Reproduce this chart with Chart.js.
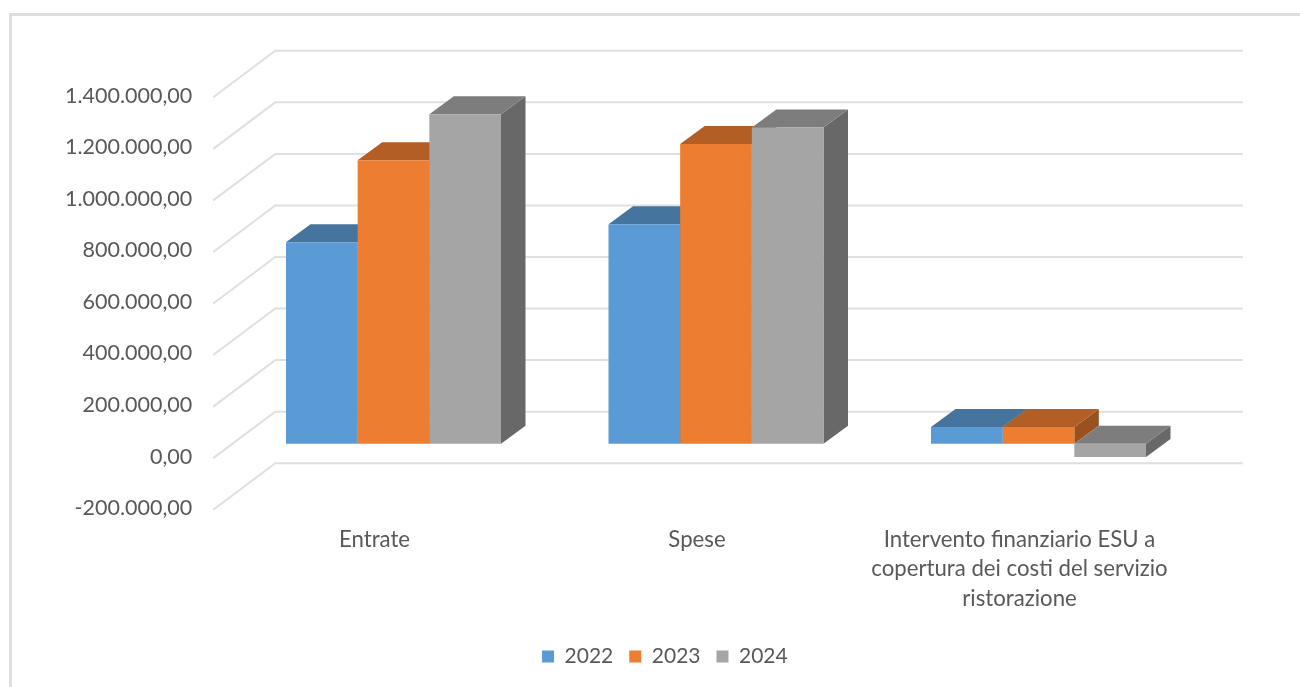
<!DOCTYPE html>
<html>
<head>
<meta charset="utf-8">
<script src="https://cdn.jsdelivr.net/npm/chart.js@4"></script>
<style>
html,body{margin:0;padding:0;background:#fff;overflow:hidden}
#wrap{position:absolute;left:0;top:0;width:1300px;height:687px;overflow:hidden}
#frame{position:absolute;left:9px;top:13px;width:1320px;height:700px;border:3px solid #dedede;box-sizing:border-box}
canvas{position:absolute;left:0;top:0}
</style>
</head>
<body>
<div id="wrap"><div id="frame"></div><canvas id="c" width="1300" height="687"></canvas></div>
<script>
const categories = ['Entrate', 'Spese', ['Intervento finanziario ESU a', 'copertura dei costi del servizio', 'ristorazione']];
const years = ['2022', '2023', '2024'];
const values2022 = [781000, 851000, 65000];
const values2023 = [1100000, 1163000, 65000];
const values2024 = [1278000, 1227000, -52000];
const frontColors = ['#5b9bd5', '#ed7d31', '#a5a5a5'];
const topColors = ['#45759f', '#b25e24', '#7d7d7d'];
const sideColors = ['#3a6387', '#9a5120', '#686868'];

const DEPTH_X = 24.5, DEPTH_Y = 18;      // bar depth
const BACK_X = 43, BACK_Y = 32;          // bar plane -> back wall
const FRONT_X = -19, FRONT_Y = 14.5;     // bar plane -> front edge of the floor

function poly(ctx, pts, fill) {
  ctx.beginPath();
  pts.forEach((p, i) => i ? ctx.lineTo(p[0], p[1]) : ctx.moveTo(p[0], p[1]));
  ctx.closePath();
  ctx.fillStyle = fill;
  ctx.fill();
}

const walls = {
  id: 'walls',
  afterLayout(chart) {
    // the legend sits centred under the whole chart, plot offset included
    chart.legend.left += 65; chart.legend.right += 65;
    chart.legend.top += 4; chart.legend.bottom += 4;
  },
  beforeDatasetsDraw(chart) {
    const { ctx, chartArea: a, scales: { y } } = chart;
    ctx.save();
    ctx.strokeStyle = '#e0e0e0';
    ctx.lineWidth = 2;
    y.ticks.forEach(t => {
      const py = y.getPixelForValue(t.value);
      ctx.beginPath();
      ctx.moveTo(a.left + FRONT_X, py + FRONT_Y);
      ctx.lineTo(a.left + BACK_X, py - BACK_Y);
      ctx.lineTo(a.right + BACK_X, py - BACK_Y);
      ctx.stroke();
    });
    chart.data.datasets.forEach((ds, i) => {
      chart.getDatasetMeta(i).data.forEach(bar => {
        const l = bar.x - bar.width / 2, r = bar.x + bar.width / 2;
        const t = Math.min(bar.y, bar.base), b = Math.max(bar.y, bar.base);
        poly(ctx, [[r, t], [r + DEPTH_X, t - DEPTH_Y], [r + DEPTH_X, b - DEPTH_Y], [r, b]], sideColors[i]);
        poly(ctx, [[l, t], [l + DEPTH_X, t - DEPTH_Y], [r + DEPTH_X, t - DEPTH_Y], [r, t]], topColors[i]);
      });
    });
    ctx.restore();
  }
};

new Chart(document.getElementById('c'), {
  type: 'bar',
  plugins: [walls],
  data: {
    labels: categories,
    datasets: [
      { label: years[0], data: values2022, backgroundColor: frontColors[0] },
      { label: years[1], data: values2023, backgroundColor: frontColors[1] },
      { label: years[2], data: values2024, backgroundColor: frontColors[2] }
    ]
  },
  options: {
    responsive: false,
    animation: false,
    layout: { padding: { left: 0, right: 100.25, top: 82.8, bottom: 14 } },
    datasets: { bar: { categoryPercentage: 2 / 3, barPercentage: 1 } },
    scales: {
      x: {
        grid: { display: false, drawTicks: false },
        border: { display: false },
        afterFit(s) { s.height = 130.8; },
        ticks: {
          autoSkip: false, maxRotation: 0, minRotation: 0,
          padding: 30, labelOffset: FRONT_X,
          color: '#595959',
          font: { family: 'Lato', size: 22.2, lineHeight: 1.32 }
        }
      },
      y: {
        min: -200000, max: 1400000,
        grid: { display: false, drawTicks: false },
        border: { display: false },
        afterFit(s) { s.width = 232.25; },
        ticks: {
          stepSize: 200000, padding: 40, labelOffset: 13,
          color: '#595959', font: { family: 'Lato', size: 21.5 },
          callback: v => v.toLocaleString('it-IT', { minimumFractionDigits: 2, maximumFractionDigits: 2, useGrouping: true })
        }
      }
    },
    plugins: {
      legend: {
        position: 'bottom',
        labels: { boxWidth: 12, boxHeight: 12, padding: 16, color: '#595959', font: { family: 'Lato', size: 21 } }
      },
      tooltip: { enabled: false }
    }
  }
});
</script>
</body>
</html>
